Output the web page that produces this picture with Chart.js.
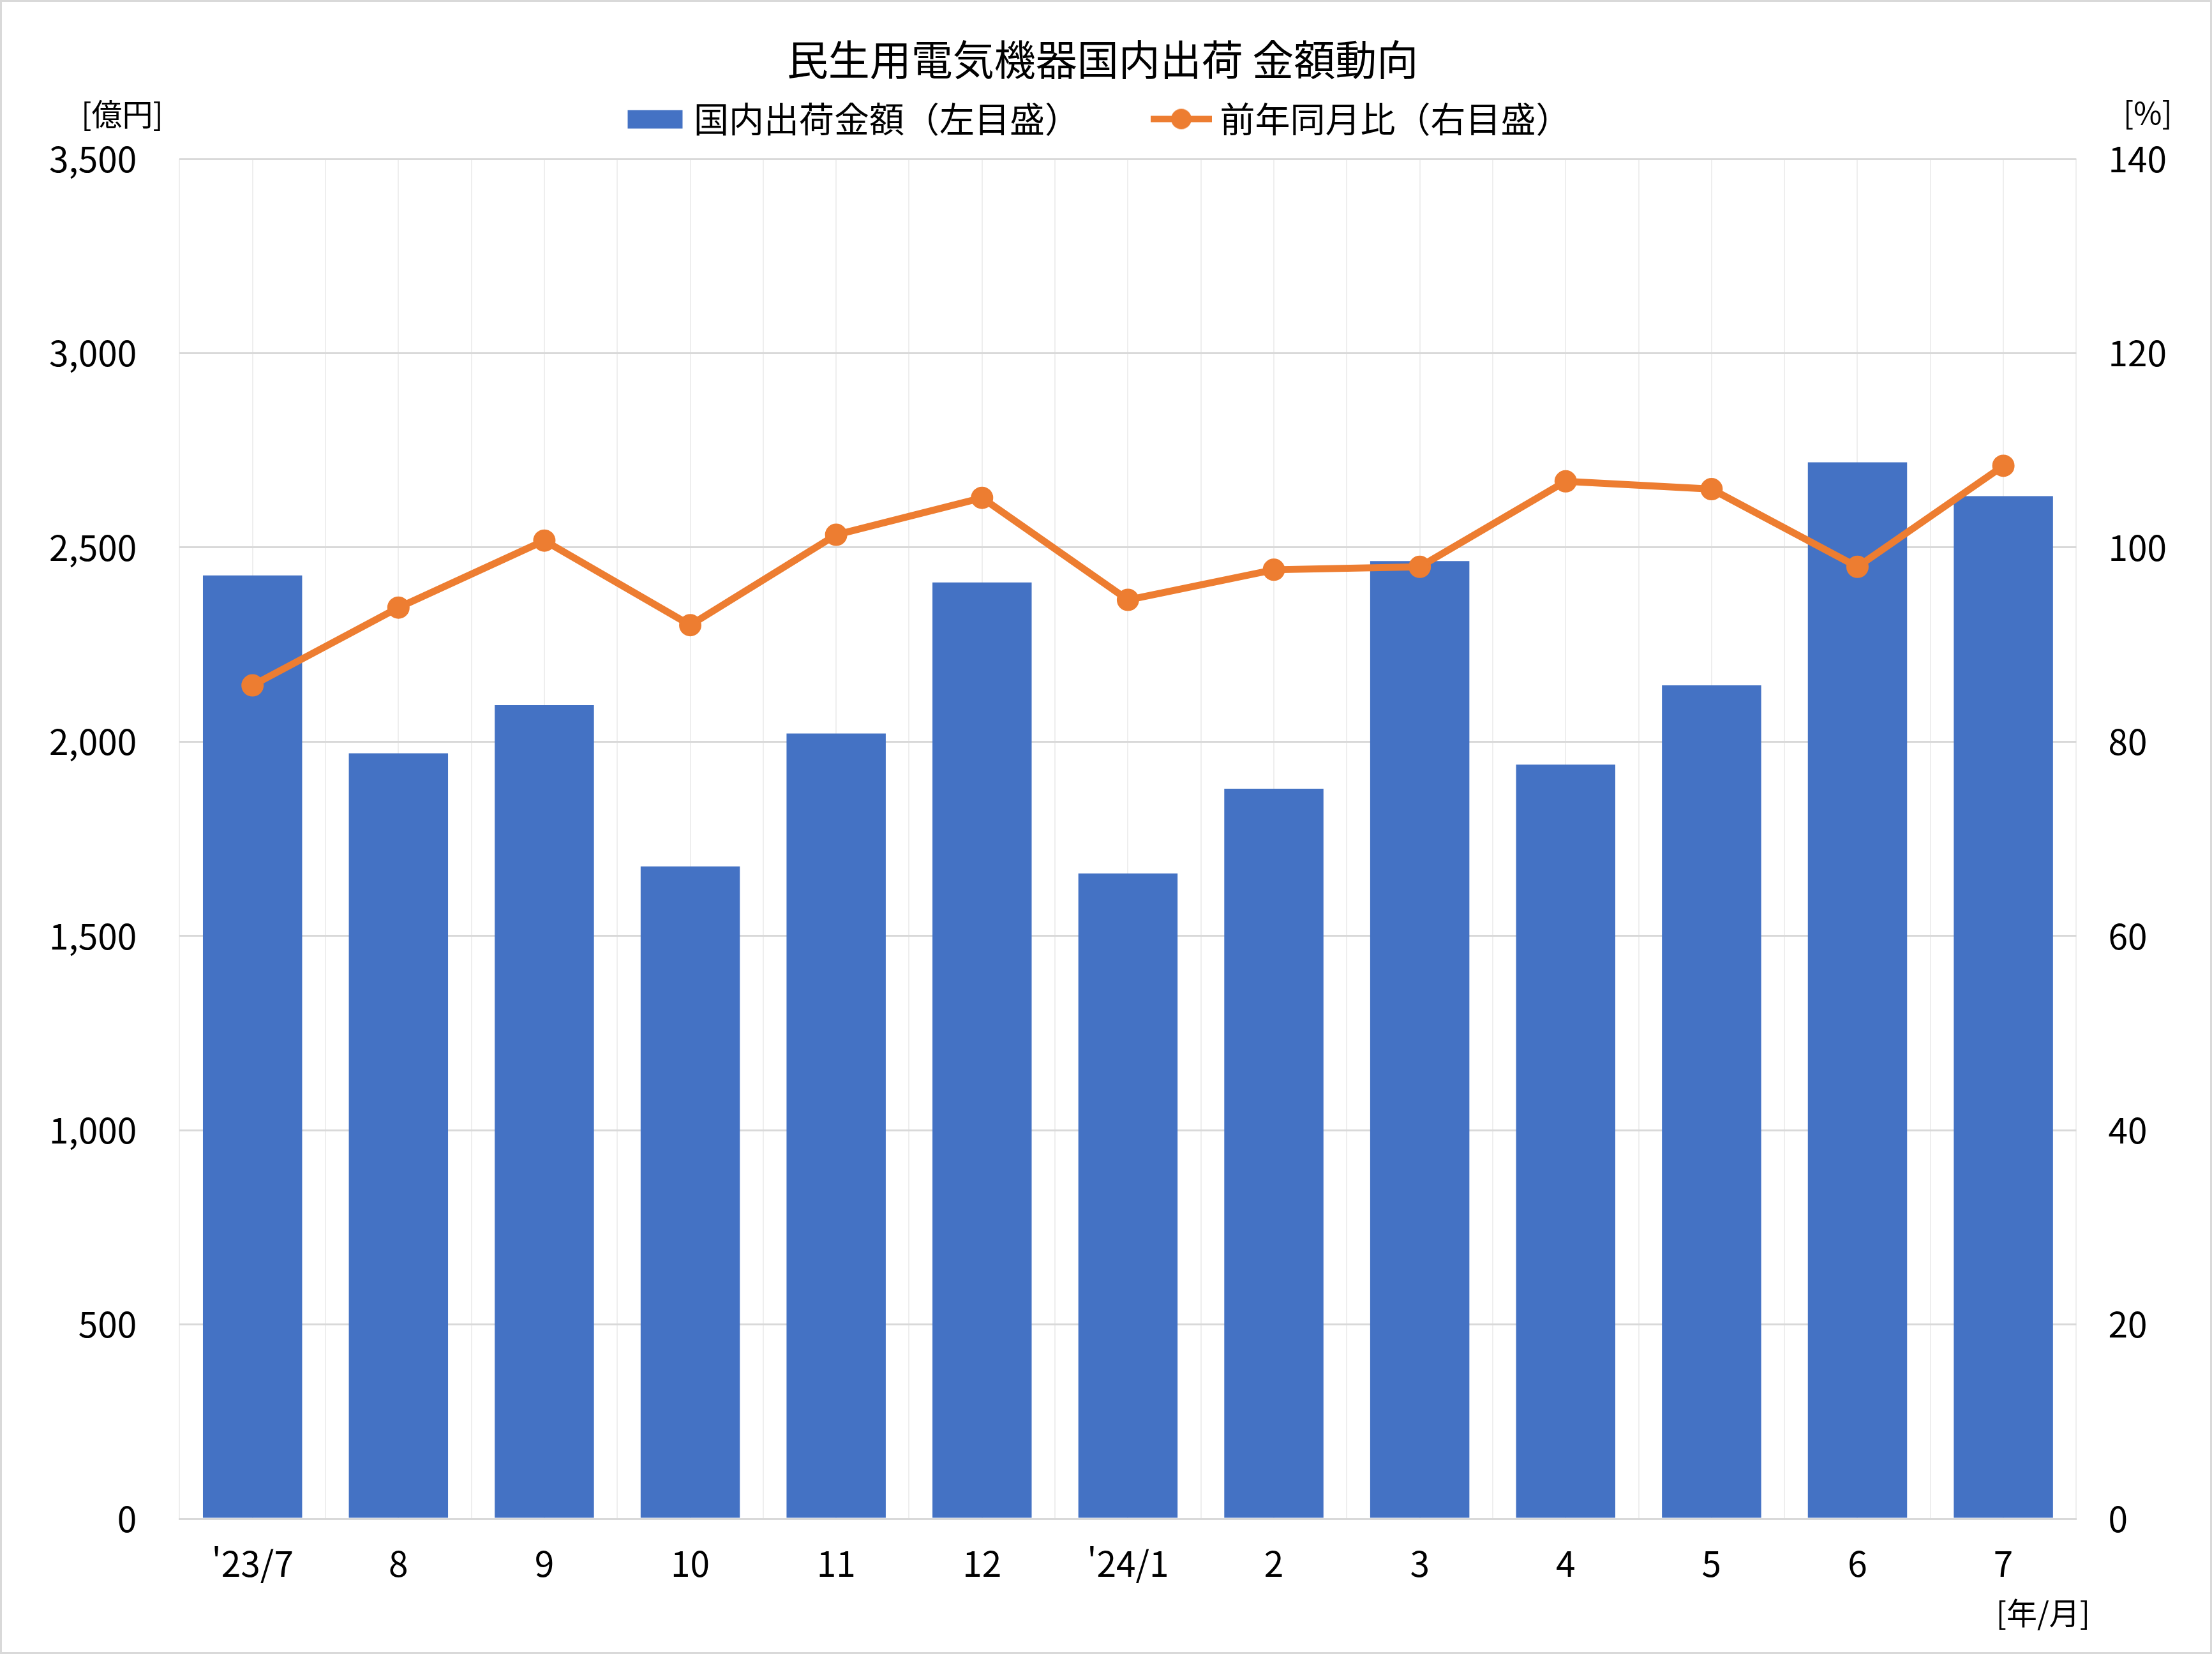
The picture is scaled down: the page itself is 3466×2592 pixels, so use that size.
<!DOCTYPE html>
<html lang="ja">
<head>
<meta charset="utf-8">
<title>民生用電気機器国内出荷 金額動向</title>
<script src="https://cdn.jsdelivr.net/npm/chart.js@4.4.1/dist/chart.umd.min.js"></script>
<style>
  html, body { margin: 0; padding: 0; background: #fff; }
  #wrap { width: 3466px; height: 2592px; box-sizing: border-box; border: 3px solid #d9d9d9; }
</style>
</head>
<body>
<div id="wrap"><canvas id="chart"></canvas></div>
<script>
// data
const months = ["'23/7", '8', '9', '10', '11', '12', "'24/1", '2', '3', '4', '5', '6', '7'];
const shipments = [2428, 1970, 2094, 1679, 2021, 2410, 1661, 1879, 2465, 1941, 2145, 2719, 2632]; // 億円
const yoyRatio = [85.8, 93.8, 100.7, 92.0, 101.3, 105.1, 94.6, 97.7, 98.0, 106.8, 106.0, 98.0, 108.4]; // %
const leftRange = [0, 3500, 500];
const rightRange = [0, 140, 20];

const barColor = '#4472C4';
const lineColor = '#ED7D31';
const font = '"Noto Sans CJK JP", "Noto Sans", sans-serif';

// legend icons: plain box for bars, line with dot for the ratio
function makeIcon(kind){
    const c = document.createElement('canvas');
    c.width = 96; c.height = 36;
    const g = c.getContext('2d');
    if (kind === 'bar') {
        g.fillStyle = barColor;
        g.fillRect(5, 4, 86, 29);
    } else {
        g.strokeStyle = lineColor;
        g.lineWidth = 10;
        g.beginPath(); g.moveTo(0, 18); g.lineTo(96, 18); g.stroke();
        g.fillStyle = lineColor;
        g.beginPath(); g.arc(48, 18, 16, 0, Math.PI * 2); g.fill();
    }
    return c;
}
const icons = [makeIcon('line'), makeIcon('bar')];

const unitLabels = {
    id: 'unitLabels',
    afterDraw(chart){
        const {ctx, chartArea} = chart;
        ctx.save();
        ctx.font = '48px ' + font;
        ctx.fillStyle = '#000';
        ctx.textAlign = 'center';
        ctx.textBaseline = 'middle';
        ctx.fillText('[億円]', chartArea.left - 90, chartArea.top - 70);
        ctx.fillText('[%]', chartArea.right + 112, chartArea.top - 72);
        ctx.fillText('[年/月]', chartArea.right - 52, chartArea.bottom + 148);
        ctx.restore();
    }
};

new Chart(document.getElementById('chart'), {
    data: {
        labels: months,
        datasets: [{
            type: 'line',
            label: '前年同月比（右目盛）',
            data: yoyRatio,
            yAxisID: 'y1',
            borderColor: lineColor,
            backgroundColor: lineColor,
            borderWidth: 11,
            pointRadius: 16,
            pointBorderWidth: 3,
            pointBackgroundColor: lineColor,
            tension: 0
        }, {
            type: 'bar',
            label: '国内出荷金額（左目盛）',
            data: shipments,
            yAxisID: 'y',
            backgroundColor: barColor,
            barPercentage: 1,
            categoryPercentage: 0.68
        }]
    },
    options: {
        responsive: true,
        maintainAspectRatio: false,
        animation: false,
        layout: { padding: { left: 7, right: 18, top: 0, bottom: 69 } },
        plugins: {
            title: {
                display: true,
                text: '民生用電気機器国内出荷 金額動向',
                color: '#000',
                font: { family: font, size: 65, weight: 'normal' },
                padding: { top: 51, bottom: -99 }
            },
            legend: {
                display: true,
                labels: {
                    color: '#000',
                    font: { family: font, size: 55 },
                    usePointStyle: true,
                    pointStyleWidth: 66,
                    padding: 126,
                    generateLabels(chart){
                        const items = Chart.defaults.plugins.legend.labels.generateLabels(chart);
                        items.forEach(it => { it.pointStyle = icons[it.datasetIndex]; });
                        return items.sort((a, b) => b.datasetIndex - a.datasetIndex);
                    }
                }
            },
            tooltip: { enabled: false }
        },
        scales: {
            x: {
                type: 'category',
                grid: { display: false, drawTicks: false },
                border: { color: '#d9d9d9', width: 3 },
                ticks: { color: '#000', font: { family: font, size: 55 }, padding: 37, maxRotation: 0 }
            },
            xg: {
                type: 'linear',
                position: 'top',
                min: -0.5,
                max: 12.5,
                afterFit(scale){ scale.height = 25; },
                grid: { color: '#eeeeee', lineWidth: 2, drawTicks: false },
                border: { display: false },
                ticks: { display: false, stepSize: 0.5 }
            },
            y: {
                position: 'left',
                min: leftRange[0],
                max: leftRange[1],
                grid: { color: '#d9d9d9', lineWidth: 3, drawTicks: false },
                border: { display: false },
                ticks: {
                    stepSize: leftRange[2],
                    color: '#000',
                    font: { family: font, size: 55 },
                    padding: 67,
                    callback: v => v.toLocaleString('en-US')
                }
            },
            y1: {
                position: 'right',
                min: rightRange[0],
                max: rightRange[1],
                grid: { display: false, drawTicks: false },
                border: { display: false },
                ticks: {
                    stepSize: rightRange[2],
                    color: '#000',
                    font: { family: font, size: 55 },
                    padding: 50
                }
            }
        }
    },
    plugins: [unitLabels]
});
</script>
</body>
</html>
